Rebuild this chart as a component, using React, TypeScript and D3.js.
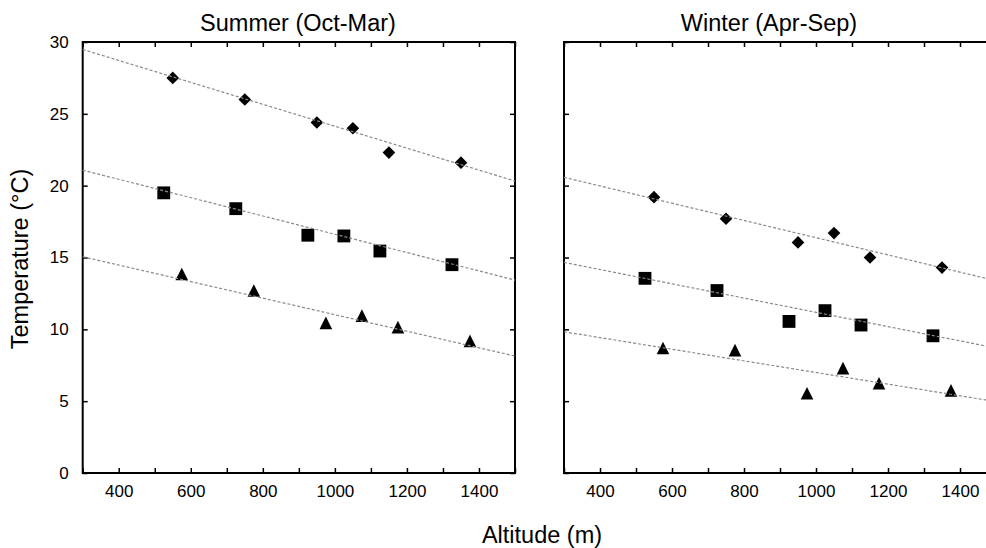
import React, { useRef, useEffect } from 'react';
import * as d3 from 'd3';

// readings: altitude (m) vs mean temperature (°C)
const summerMax = [[550, 27.5], [750, 26.0], [950, 24.4], [1050, 24.0], [1150, 22.3], [1350, 21.6]];
const summerMean = [[525, 19.5], [725, 18.4], [925, 16.55], [1025, 16.5], [1125, 15.45], [1325, 14.5]];
const summerMin = [[575, 13.85], [775, 12.7], [975, 10.45], [1075, 10.95], [1175, 10.15], [1375, 9.2]];

const winterMax = [[550, 19.2], [750, 17.7], [950, 16.05], [1050, 16.7], [1150, 15.0], [1350, 14.3]];
const winterMean = [[525, 13.55], [725, 12.7], [925, 10.55], [1025, 11.3], [1125, 10.3], [1325, 9.55]];
const winterMin = [[575, 8.7], [775, 8.55], [975, 5.55], [1075, 7.3], [1175, 6.25], [1375, 5.75]];

// fitted lines, end points read at 300 m and 1500 m
const summerFits = [[[300, 29.48], [1500, 20.32]], [[300, 21.08], [1500, 13.43]], [[300, 15.05], [1500, 8.14]]];
const winterFits = [[[300, 20.58], [1500, 13.38]], [[300, 14.66], [1500, 8.7]], [[300, 9.83], [1500, 4.97]]];

const yTicks = [0, 5, 10, 15, 20, 25, 30];
const xTicks = d3.range(300, 1501, 100);
const xLabels = [400, 600, 800, 1000, 1200, 1400];

const W = 986;
const H = 548;
const FONT = '"Liberation Sans", Arial, Helvetica, sans-serif';

const diamond = {
  draw(ctx, size) {
    const r = Math.sqrt(size) / 2;
    ctx.moveTo(0, -r); ctx.lineTo(r, 0); ctx.lineTo(0, r); ctx.lineTo(-r, 0); ctx.closePath();
  },
};
const square = {
  draw(ctx, size) {
    const r = Math.sqrt(size) / 2;
    ctx.rect(-r, -r, 2 * r, 2 * r);
  },
};
const triangle = {
  draw(ctx, size) {
    const r = Math.sqrt(size) / 2;
    ctx.moveTo(0, -r); ctx.lineTo(r, r); ctx.lineTo(-r, r); ctx.closePath();
  },
};

const App = () => {
  const svgRef = useRef(null);

  useEffect(() => {
    const svg = d3.select(svgRef.current);
    svg.selectAll('*').remove();

    const y = d3.scaleLinear().domain([0, 30]).range([473, 42]);

    const panels = [
      { x0: 82.7, x1: 515, title: 'Summer (Oct-Mar)', tx: 298, labels: true, series: [summerMax, summerMean, summerMin], fits: summerFits },
      { x0: 564, x1: 996, title: 'Winter (Apr-Sep)', tx: 769, labels: false, series: [winterMax, winterMean, winterMin], fits: winterFits },
    ];
    const shapes = [
      { type: diamond, size: 160 },
      { type: square, size: 165 },
      { type: triangle, size: 160 },
    ];

    panels.forEach(p => {
      const x = d3.scaleLinear().domain([300, 1500]).range([p.x0, p.x1]);
      const g = svg.append('g');

      const fmt = d => (xLabels.includes(d) ? String(d) : '');
      const bottom = g.append('g').attr('transform', `translate(0,${y(0)})`)
        .call(d3.axisBottom(x).tickValues(xTicks).tickFormat(fmt).tickSizeInner(-5).tickSizeOuter(0).tickPadding(12));
      const top = g.append('g').attr('transform', `translate(0,${y(30)})`)
        .call(d3.axisTop(x).tickValues(xTicks).tickFormat('').tickSizeInner(-5).tickSizeOuter(0));
      const left = g.append('g').attr('transform', `translate(${p.x0},0)`)
        .call(d3.axisLeft(y).tickValues(yTicks).tickFormat(p.labels ? d3.format('d') : () => '').tickSizeInner(-5).tickSizeOuter(0).tickPadding(14));
      const right = g.append('g').attr('transform', `translate(${p.x1},0)`)
        .call(d3.axisRight(y).tickValues(yTicks).tickFormat('').tickSizeInner(-5).tickSizeOuter(0));

      [bottom, top, left, right].forEach(a => {
        a.select('.domain').remove();
        a.selectAll('line').attr('stroke', '#000').attr('stroke-width', 1.5);
        a.selectAll('text').attr('font-family', FONT).attr('font-size', 17).attr('fill', '#000');
      });

      g.append('rect')
        .attr('x', p.x0).attr('y', y(30))
        .attr('width', p.x1 - p.x0).attr('height', y(0) - y(30))
        .attr('fill', 'none').attr('stroke', '#000').attr('stroke-width', 2);

      p.series.forEach((s, i) => {
        const sym = d3.symbol().type(shapes[i].type).size(shapes[i].size);
        g.selectAll(null).data(s).enter().append('path')
          .attr('transform', d => `translate(${x(d[0])},${y(d[1])})`)
          .attr('d', sym())
          .attr('fill', '#000');
      });

      const line = d3.line().x(d => x(d[0])).y(d => y(d[1]));
      p.fits.forEach(f => {
        g.append('path')
          .attr('d', line(f))
          .attr('fill', 'none')
          .attr('stroke', '#8a8a8a')
          .attr('stroke-width', 1.2)
          .attr('stroke-dasharray', '3,2');
      });

      g.append('text')
        .attr('x', p.tx).attr('y', 31)
        .attr('text-anchor', 'middle')
        .attr('font-family', FONT).attr('font-size', 23.5)
        .text(p.title);
    });

    svg.append('text')
      .attr('transform', 'translate(28,259) rotate(-90)')
      .attr('text-anchor', 'middle')
      .attr('font-family', FONT).attr('font-size', 23.5)
      .text('Temperature (°C)');

    svg.append('text')
      .attr('x', 542).attr('y', 543)
      .attr('text-anchor', 'middle')
      .attr('font-family', FONT).attr('font-size', 23.5)
      .text('Altitude (m)');
  }, []);

  return (
    <div>
      <svg ref={svgRef} width={W} height={H} style={{ position: 'absolute', left: 0, top: 0, background: '#fff' }} />
    </div>
  );
};

export default App;
